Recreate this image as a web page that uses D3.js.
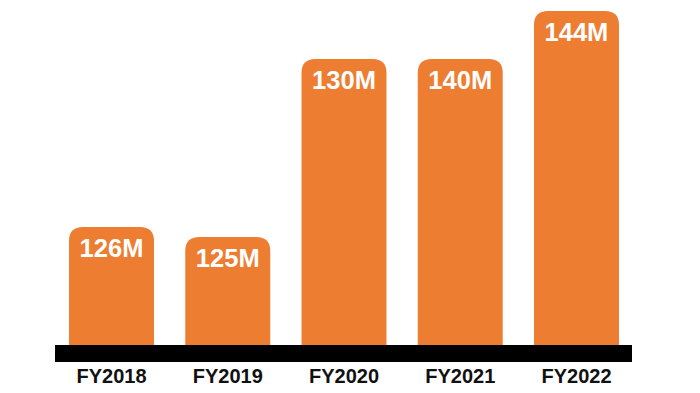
<!DOCTYPE html>
<html>
<head>
<meta charset="utf-8">
<script src="https://cdn.jsdelivr.net/npm/d3@7"></script>
<style>
  body { margin: 0; background: #fff; }
  svg { display: block; }
</style>
</head>
<body>
<div id="chart"></div>
<script>
// categories and labels shown on the bars
var years = ['FY2018', 'FY2019', 'FY2020', 'FY2021', 'FY2022'];
var labels = ['126M', '125M', '130M', '140M', '144M'];
// drawn bar heights (the axis is not to scale)
var heights = [118, 108, 286, 286, 334];

var width = 700, height = 393;
var baseY = 345;

var svg = d3.select('#chart')
    .append('svg')
    .attr('width', width)
    .attr('height', height);

var x = d3.scaleBand()
    .domain(years)
    .range([57.4, 630.6])
    .paddingInner(0.269)
    .paddingOuter(0.1);

var y = d3.scaleLinear()
    .domain([0, 345])
    .range([baseY, 0]);

function topRounded(x0, y0, w, h, r) {
    return 'M' + x0 + ',' + (y0 + h) +
        'V' + (y0 + r) +
        'Q' + x0 + ',' + y0 + ' ' + (x0 + r) + ',' + y0 +
        'H' + (x0 + w - r) +
        'Q' + (x0 + w) + ',' + y0 + ' ' + (x0 + w) + ',' + (y0 + r) +
        'V' + (y0 + h) + 'Z';
}

var data = years.map(function(d, i) {
    return { year: d, label: labels[i], h: heights[i] };
});

svg.selectAll('path.bar')
    .data(data)
    .enter()
    .append('path')
    .attr('class', 'bar')
    .attr('fill', '#ED7D31')
    .attr('d', function(d) {
        return topRounded(x(d.year), y(d.h), x.bandwidth(), baseY - y(d.h) + 1, 14);
    });

svg.selectAll('text.val')
    .data(data)
    .enter()
    .append('text')
    .attr('class', 'val')
    .attr('x', function(d) { return x(d.year) + x.bandwidth() / 2; })
    .attr('y', function(d) { return y(d.h) + 30; })
    .attr('text-anchor', 'middle')
    .attr('fill', '#fff')
    .style('font-family', 'Liberation Sans, Arial, sans-serif')
    .style('font-weight', 'bold')
    .style('font-size', '25.5px')
    .text(function(d) { return d.label; });

// thick black baseline
svg.append('rect')
    .attr('x', 55)
    .attr('y', baseY)
    .attr('width', 577)
    .attr('height', 17)
    .attr('fill', '#000');

svg.selectAll('text.year')
    .data(data)
    .enter()
    .append('text')
    .attr('class', 'year')
    .attr('x', function(d) { return x(d.year) + x.bandwidth() / 2; })
    .attr('y', 383)
    .attr('text-anchor', 'middle')
    .attr('fill', '#111')
    .style('font-family', 'Liberation Sans, Arial, sans-serif')
    .style('font-weight', 'bold')
    .style('font-size', '20px')
    .text(function(d) { return d.year; });
</script>
</body>
</html>
